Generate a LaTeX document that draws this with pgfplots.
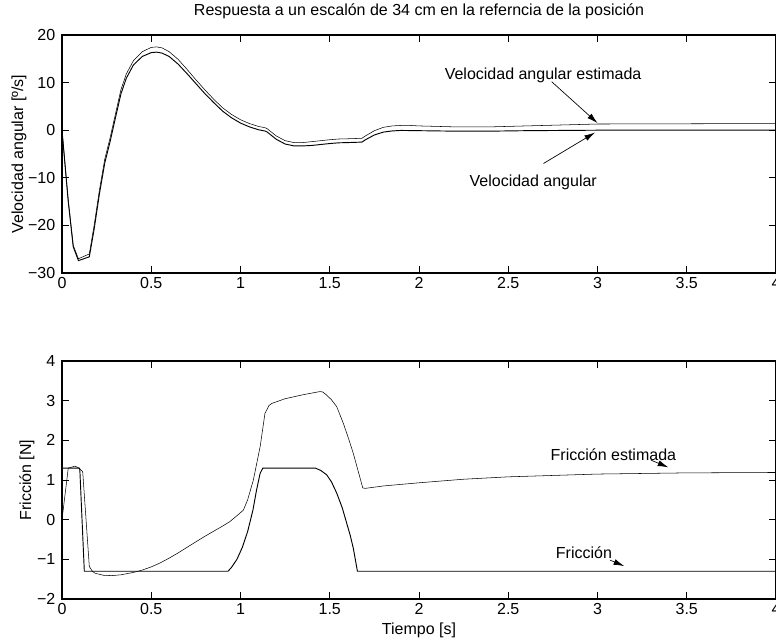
\documentclass[border=0pt]{standalone}
\usepackage{pgfplots}
\pgfplotsset{compat=1.18}
\usepackage{fontspec}
\setmainfont{Liberation Sans}
\usetikzlibrary{arrows.meta}

\pgfplotsset{
  matlab/.style={
    width=535.5pt, height=178.5pt, scale only axis,
    xmin=0, xmax=4,
    xtick={0,0.5,...,4},
    xticklabels={0,0.5,1,1.5,2,2.5,3,3.5,4},
    tick align=inside, xtick pos=both, ytick pos=both,
    major tick length=5pt,
    every tick/.style={black, line width=0.5pt},
    axis line style={line width=0.8pt},
    yticklabel style={xshift=-1.5pt},
    cycle list={{black, line width=0.7pt, mark=none}},
    every axis y label/.style={rotate=90, anchor=center},
    every axis x label/.style={at={(axis description cs:0.5,0)}, anchor=center, yshift=-23.25pt},
    every axis title/.style={at={(axis description cs:0.5,1)}, anchor=center, yshift=18pt},
  },
}
\tikzset{arr/.style={-{Latex[length=8pt,width=4.5pt]}, line width=0.5pt}}

\begin{document}
\begin{tikzpicture}[font=\fontsize{12}{14}\selectfont]
\begin{axis}[matlab, name=top,
  ymin=-30, ymax=20,
  ytick={-30,-20,...,20},
  yticklabels={−30,−20,−10,0,10,20},
  title={Respuesta a un escalón de 34 cm en la referncia de la posición},
  ylabel={Velocidad angular [º/s]},
  ylabel style={at={(axis description cs:-0.0602,0.5)}},
]
% velocidad angular estimada
\addplot coordinates {
(0,0) (0.035,-14.7) (0.063,-24.2) (0.092,-27.0) (0.153,-26.0)
(0.18,-20) (0.21,-12.5) (0.24,-6) (0.27,-1.5) (0.30,3.5) (0.33,8.5)
(0.36,11.8) (0.40,14.6) (0.45,16.5) (0.50,17.4) (0.53,17.5) (0.56,17.3)
(0.60,16.5) (0.65,14.9) (0.70,12.8) (0.75,10.6) (0.80,8.5) (0.85,6.5)
(0.90,4.7) (0.95,3.3) (1.00,2.2) (1.05,1.4) (1.10,0.8) (1.14,0.5)
(1.15,0.3) (1.20,-1.2) (1.25,-2.2) (1.30,-2.6) (1.35,-2.6) (1.40,-2.4)
(1.45,-2.2) (1.50,-2.0) (1.55,-1.85) (1.60,-1.8) (1.68,-1.7) (1.70,-1.2)
(1.75,-0.1) (1.80,0.6) (1.85,0.9) (1.90,1.0) (1.95,1.0) (2.00,0.9)
(2.10,0.8) (2.20,0.7) (2.40,0.7) (2.60,0.9) (2.80,1.1) (3.00,1.3)
(3.50,1.35) (4.00,1.4)
};
% velocidad angular
\addplot coordinates {
(0,0) (0.035,-15) (0.063,-24.5) (0.092,-27.4) (0.153,-26.6)
(0.18,-20.8) (0.21,-13.3) (0.24,-6.8) (0.27,-2.3) (0.30,2.7) (0.33,7.6)
(0.36,10.9) (0.40,13.7) (0.45,15.5) (0.50,16.3) (0.53,16.4) (0.56,16.2)
(0.60,15.5) (0.65,13.9) (0.70,11.9) (0.75,9.8) (0.80,7.7) (0.85,5.8)
(0.90,4.0) (0.95,2.6) (1.00,1.5) (1.05,0.7) (1.10,0.1) (1.14,-0.2)
(1.15,-0.4) (1.20,-1.9) (1.25,-2.9) (1.30,-3.3) (1.35,-3.3) (1.40,-3.2)
(1.45,-3.0) (1.50,-2.8) (1.55,-2.65) (1.60,-2.6) (1.68,-2.5) (1.70,-2.0)
(1.75,-1.0) (1.80,-0.4) (1.85,-0.15) (1.90,-0.05) (2.00,-0.1)
(2.20,-0.2) (2.40,-0.2) (2.60,-0.1) (3.00,0.0) (4.00,0.0)
};
\node at (axis cs:2.695,11.6) {Velocidad angular estimada};
\draw[arr] (axis cs:2.743,10.2) -- (axis cs:3.0,1.5);
\node at (axis cs:2.64,-10.9) {Velocidad angular};
\draw[arr] (axis cs:2.697,-7.0) -- (axis cs:2.986,-0.5);
\end{axis}

\begin{axis}[matlab, name=bot,
  at={(top.south west)}, anchor=south west, yshift=-244.5pt,
  ymin=-2, ymax=4,
  ytick={-2,-1,...,4},
  yticklabels={−2,−1,0,1,2,3,4},
  xlabel={Tiempo [s]},
  ylabel={Fricción [N]},
  ylabel style={at={(axis description cs:-0.049,0.5)}},
]
% friccion estimada
\addplot coordinates {
(0,0) (0.035,1.3) (0.073,1.35) (0.095,1.3) (0.116,1.21) (0.153,-1.18)
(0.17,-1.3) (0.185,-1.35) (0.23,-1.40) (0.278,-1.41) (0.33,-1.39)
(0.40,-1.33) (0.45,-1.27) (0.50,-1.19) (0.55,-1.09) (0.60,-0.97)
(0.65,-0.84) (0.717,-0.65) (0.80,-0.42) (0.90,-0.16) (0.94,-0.05)
(0.98,0.1) (1.016,0.24) (1.04,0.5) (1.072,1.0) (1.11,1.84) (1.137,2.68)
(1.16,2.88) (1.175,2.93) (1.25,3.05) (1.35,3.15) (1.445,3.23) (1.46,3.22)
(1.483,3.14) (1.51,3.02) (1.539,2.85) (1.576,2.43) (1.605,2.05) (1.632,1.67)
(1.685,0.8) (1.70,0.79) (1.80,0.85) (2.00,0.93) (2.25,1.02) (2.50,1.08)
(3.00,1.15) (3.50,1.18) (4.00,1.19)
};
% friccion
\addplot coordinates {
(0,1.3) (0.097,1.3) (0.10,1.25) (0.125,-1.3) (0.93,-1.3) (0.95,-1.2)
(0.98,-1.0) (1.01,-0.7) (1.04,-0.3) (1.07,0.25) (1.09,0.75) (1.11,1.17)
(1.125,1.3) (1.42,1.3) (1.45,1.24) (1.483,1.13) (1.51,0.95) (1.539,0.67)
(1.57,0.3) (1.595,-0.09) (1.615,-0.4) (1.632,-0.72) (1.655,-1.3) (4.00,-1.3)
};
\node at (axis cs:3.089,1.63) {Fricción estimada};
\draw[arr] (axis cs:3.30,1.50) -- (axis cs:3.397,1.32);
\node at (axis cs:2.924,-0.83) {Fricción};
\draw[arr] (axis cs:3.07,-1.02) -- (axis cs:3.15,-1.17);
\end{axis}
\pgfresetboundingbox
\path[use as bounding box] ([xshift=-46.5pt,yshift=26.25pt]top.north west) rectangle ([yshift=-33pt]bot.south east);
\end{tikzpicture}
\end{document}
